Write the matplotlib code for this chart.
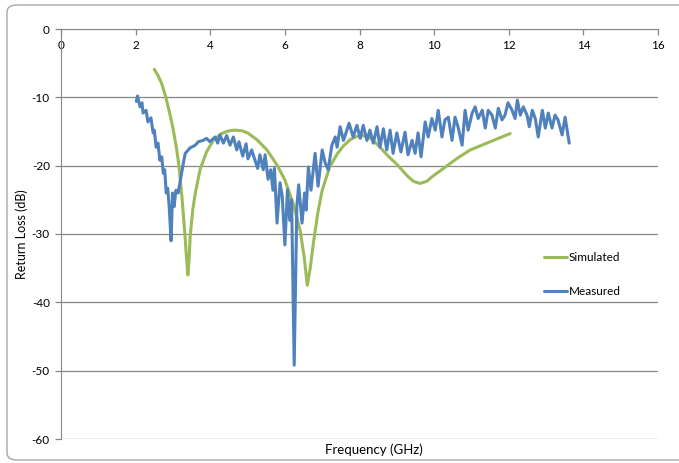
import matplotlib.pyplot as plt
from matplotlib.patches import FancyBboxPatch

# simulated return loss (GHz, dB)
sim_f = [2.5, 2.6, 2.7, 2.8, 2.9, 3.0, 3.1, 3.16, 3.24, 3.32, 3.37, 3.4, 3.43, 3.46, 3.53,
         3.6, 3.73, 3.9, 4.08, 4.3, 4.5, 4.66, 4.85, 5.0, 5.25, 5.52, 5.8, 6.0, 6.22, 6.41,
         6.52, 6.6, 6.68, 6.76, 6.88, 7.0, 7.2, 7.4, 7.57, 7.75, 7.93, 8.1, 8.3, 8.5, 8.75,
         9.0, 9.3, 9.45, 9.62, 9.8, 9.95, 10.15, 10.35, 10.65, 10.97, 11.5, 12.04]
sim_db = [-5.9, -6.8, -8.0, -9.8, -12.0, -14.5, -17.6, -20.0, -24.5, -30.0, -34.0, -36.0,
          -34.0, -30.5, -26.5, -24.0, -20.5, -18.0, -16.3, -15.3, -14.9, -14.8, -14.9, -15.2,
          -16.2, -17.7, -20.0, -22.1, -25.5, -29.5, -33.5, -37.5, -35.0, -31.5, -27.0, -23.6,
          -20.2, -18.3, -17.1, -16.2, -15.7, -15.6, -16.0, -17.0, -18.5, -19.8, -21.6, -22.3,
          -22.6, -22.3, -21.6, -20.8, -20.0, -18.8, -17.7, -16.5, -15.3]

# measured return loss (GHz, dB)
meas_f = [2.02, 2.05, 2.12, 2.17, 2.20, 2.28, 2.33, 2.41, 2.47, 2.50, 2.55, 2.60, 2.65, 2.70,
          2.74, 2.78, 2.82, 2.86, 2.90, 2.95, 2.99, 3.03, 3.08, 3.14, 3.20, 3.28, 3.33, 3.46,
          3.60, 3.68, 3.81, 3.90, 3.99, 4.13, 4.20, 4.26, 4.35, 4.44, 4.53, 4.62, 4.71, 4.77,
          4.87, 4.96, 5.01, 5.11, 5.20, 5.27, 5.33, 5.42, 5.47, 5.55, 5.62, 5.68, 5.72, 5.79,
          5.87, 5.93, 6.00, 6.07, 6.13, 6.18, 6.25, 6.32, 6.37, 6.46, 6.53, 6.57, 6.63, 6.70,
          6.81, 6.89, 7.00, 7.08, 7.16, 7.26, 7.35, 7.40, 7.48, 7.57, 7.65, 7.72, 7.83, 7.93,
          8.02, 8.10, 8.20, 8.28, 8.37, 8.47, 8.55, 8.64, 8.73, 8.82, 8.90, 9.00, 9.11, 9.22,
          9.30, 9.41, 9.49, 9.57, 9.65, 9.76, 9.84, 9.94, 10.03, 10.11, 10.21, 10.29, 10.38,
          10.48, 10.56, 10.64, 10.75, 10.83, 10.91, 11.02, 11.10, 11.18, 11.29, 11.37, 11.45,
          11.55, 11.64, 11.72, 11.82, 11.90, 11.98, 12.09, 12.17, 12.23, 12.31, 12.39, 12.49,
          12.55, 12.63, 12.71, 12.79, 12.90, 12.98, 13.06, 13.16, 13.24, 13.32, 13.43, 13.51,
          13.62]
meas_db = [-10.6, -9.8, -11.4, -10.8, -12.3, -11.9, -13.6, -13.0, -15.2, -14.8, -17.3, -16.7,
           -19.2, -18.7, -21.1, -20.6, -24.0, -23.3, -26.0, -31.0, -24.0, -26.0, -23.6, -24.0,
           -22.1, -19.6, -18.2, -17.4, -17.0, -16.5, -16.3, -16.0, -16.5, -15.8, -16.7, -15.5,
           -16.7, -15.6, -17.0, -15.8, -17.7, -16.5, -18.6, -16.8, -19.0, -17.7, -19.2, -20.4,
           -18.4, -20.6, -18.4, -22.0, -20.6, -23.6, -20.4, -28.4, -22.5, -24.5, -31.6, -23.5,
           -28.0, -25.0, -49.2, -26.0, -22.8, -28.4, -24.0, -26.5, -20.2, -23.6, -18.2, -23.0,
           -17.7, -19.6, -20.6, -17.0, -15.8, -17.3, -14.3, -16.3, -15.0, -13.8, -15.8, -14.1,
           -16.0, -14.1, -16.3, -14.8, -16.7, -14.3, -17.3, -14.6, -17.7, -14.8, -18.2, -15.2,
           -18.0, -15.1, -18.4, -16.3, -18.2, -15.2, -18.7, -13.6, -15.8, -13.1, -14.8, -11.9,
           -15.8, -13.3, -12.9, -16.3, -12.9, -14.3, -17.0, -11.9, -14.8, -12.3, -11.4, -13.1,
           -11.9, -14.5, -11.9, -12.6, -14.5, -11.6, -13.3, -12.6, -10.8, -11.9, -13.1, -10.4,
           -12.6, -11.4, -12.6, -14.3, -11.9, -13.1, -15.8, -11.9, -14.5, -12.3, -14.5, -12.6,
           -13.3, -15.5, -12.9, -16.7]

x_ticks = [0, 2, 4, 6, 8, 10, 12, 14, 16]
y_ticks = [0, -10, -20, -30, -40, -50, -60]

plt.rcParams['font.family'] = ['Lato', 'DejaVu Sans']
grey = '#868686'

fig = plt.figure(figsize=(6.79, 4.63), dpi=100)
frame = FancyBboxPatch((7/679, 3/463), 690/679, 455/463,
                       boxstyle='round,pad=0,rounding_size=0.015',
                       transform=fig.transFigure, facecolor='white',
                       edgecolor='#a6a6a6', linewidth=1.0, zorder=-10)
fig.add_artist(frame)
ax = fig.add_axes([61/679, 1 - 439/463, 597/679, 410/463])
ax.set_facecolor('none')

ax.plot(sim_f, sim_db, color='#9BBB59', linewidth=2.2, solid_joinstyle='round',
        solid_capstyle='round', label='Simulated', zorder=3)
ax.plot(meas_f, meas_db, color='#4F81BD', linewidth=2.2, solid_joinstyle='round',
        solid_capstyle='round', label='Measured', zorder=4)

ax.set_xlim(0, 16)
ax.set_ylim(-60, 0)
ax.set_xticks(x_ticks)
ax.set_yticks(y_ticks)
ax.set_yticklabels([str(v) for v in y_ticks])
ax.grid(axis='y', color=grey, linewidth=0.9)
ax.set_axisbelow(True)

for s in ['top', 'right']:
    ax.spines[s].set_visible(False)
ax.spines['bottom'].set_position(('data', 0))
ax.spines['bottom'].set_color(grey)
ax.spines['left'].set_color(grey)
ax.tick_params(axis='both', colors=grey, labelcolor='black', labelsize=8.5,
               length=4, width=0.9, direction='out')
ax.tick_params(axis='x', pad=4)
ax.tick_params(axis='y', pad=4)

fig.text(22/679, 1 - 234/463, 'Return Loss (dB)', rotation=90, ha='center', va='center', fontsize=9)
fig.text(374/679, 1 - 450/463, 'Frequency (GHz)', ha='center', va='center', fontsize=9.5)

leg = ax.legend(loc='upper left', bbox_to_anchor=(478/597, 1 - 218/410), frameon=False,
                fontsize=8.5, handlelength=2.0, handletextpad=0.15, labelspacing=1.95,
                borderaxespad=0)

fig.savefig('out.png', dpi=100)
